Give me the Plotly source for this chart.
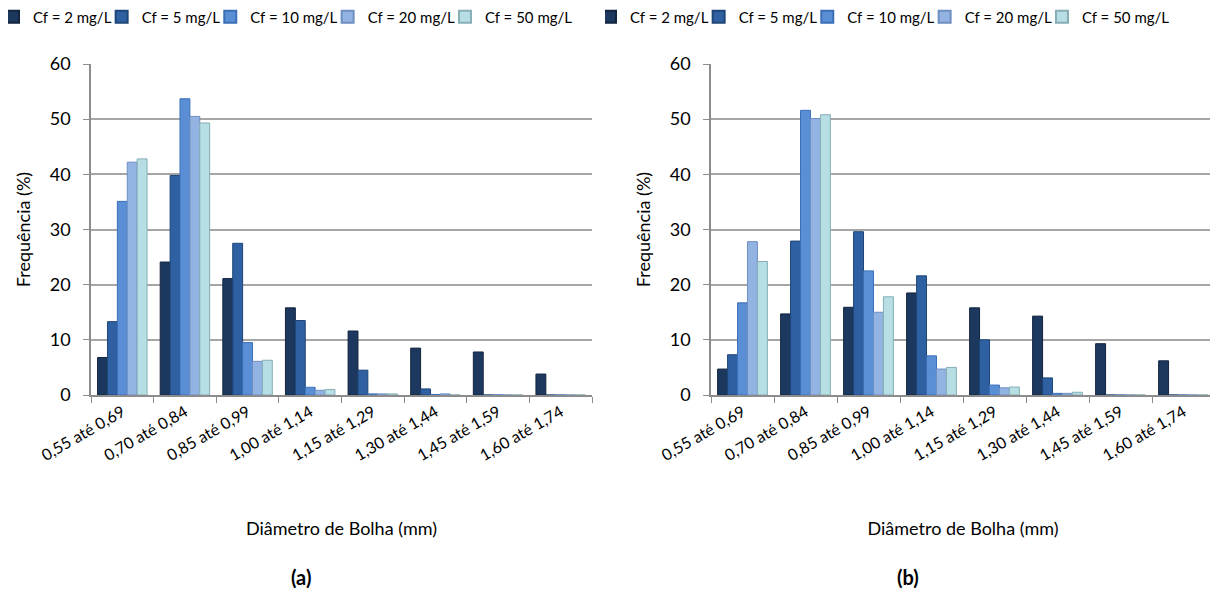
import plotly.graph_objects as go

categories = ["0,55 até 0,69", "0,70 até 0,84", "0,85 até 0,99", "1,00 até 1,14",
              "1,15 até 1,29", "1,30 até 1,44", "1,45 até 1,59", "1,60 até 1,74"]
series_names = ["Cf = 2 mg/L", "Cf = 5 mg/L", "Cf = 10 mg/L", "Cf = 20 mg/L", "Cf = 50 mg/L"]

# Chart (a)
a_cf2 = [6.8, 24.1, 21.1, 15.8, 11.6, 8.5, 7.8, 3.8]
a_cf5 = [13.3, 39.8, 27.5, 13.5, 4.5, 1.1, 0, 0]
a_cf10 = [35.1, 53.7, 9.5, 1.4, 0.2, 0.1, 0, 0]
a_cf20 = [42.2, 50.5, 6.1, 0.85, 0.2, 0.2, 0, 0]
a_cf50 = [42.8, 49.3, 6.3, 1.0, 0.2, 0, 0, 0]

# Chart (b)
b_cf2 = [4.7, 14.7, 15.9, 18.5, 15.8, 14.3, 9.3, 6.2]
b_cf5 = [7.3, 27.9, 29.6, 21.6, 10.0, 3.1, 0, 0]
b_cf10 = [16.7, 51.6, 22.5, 7.1, 1.8, 0.3, 0, 0]
b_cf20 = [27.8, 50.1, 15.0, 4.7, 1.3, 0.3, 0, 0]
b_cf50 = [24.2, 50.8, 17.8, 5.0, 1.45, 0.5, 0, 0]

y_ticks = [0, 10, 20, 30, 40, 50, 60]

fills = ["#1D385F", "#2E60A2", "#5A8FD6", "#93B3E3", "#B6DEE4"]
edges = ["#12243E", "#1E4678", "#3A6FB8", "#6F8FC0", "#86AEB4"]

FONT = "Lato, 'Open Sans', sans-serif"

fig = go.Figure()
a_data = [a_cf2, a_cf5, a_cf10, a_cf20, a_cf50]
b_data = [b_cf2, b_cf5, b_cf10, b_cf20, b_cf50]
for i, name in enumerate(series_names):
    fig.add_trace(go.Bar(x=categories, y=a_data[i], name=name, xaxis="x", yaxis="y",
                         marker=dict(color=fills[i], line=dict(color=edges[i], width=1)),
                         legend="legend", legendgroup="a" + str(i)))
for i, name in enumerate(series_names):
    fig.add_trace(go.Bar(x=categories, y=b_data[i], name=name, xaxis="x2", yaxis="y2",
                         marker=dict(color=fills[i], line=dict(color=edges[i], width=1)),
                         legend="legend2", legendgroup="b" + str(i)))

# figure is drawn inside the page body (8px margin)
W, H = 1210, 595
ax_common = dict(type="category", tickson="boundaries", ticks="outside", ticklen=6,
                 tickcolor="#8C8C8C", showline=True, linecolor="#8C8C8C", linewidth=1.5,
                 tickangle=-30, tickfont=dict(family=FONT, size=16, color="#000"),
                 showgrid=False, automargin=False,
                 title=dict(text="Diâmetro de Bolha (mm)", font=dict(family=FONT, size=18, color="#000"),
                            standoff=59))
y_common = dict(range=[0, 60], tickvals=y_ticks, ticks="outside", ticklen=6, tickcolor="#8C8C8C",
                showline=True, linecolor="#8C8C8C", linewidth=1.5, showgrid=True,
                gridcolor="#A6A6A6", gridwidth=1.5, zeroline=False, automargin=False,
                ticklabelstandoff=9,
                tickfont=dict(family=FONT, size=18, color="#000"),
                title=dict(text="Frequência (%)", font=dict(family=FONT, size=18, color="#000"),
                           standoff=14))

leg_common = dict(orientation="h", yanchor="middle", xanchor="left",
                  font=dict(family=FONT, size=15, color="#000"),
                  itemwidth=30, indentation=-15, bgcolor="rgba(0,0,0,0)", traceorder="normal",
                  tracegroupgap=0, itemsizing="constant")

fig.update_layout(
    width=W, height=H,
    margin=dict(l=0, r=0, t=0, b=0, autoexpand=False),
    paper_bgcolor="white", plot_bgcolor="white",
    barmode="group", bargap=0.21, bargroupgap=0,
    xaxis=dict(domain=[83 / W, 584 / W], anchor="y", **ax_common),
    yaxis=dict(domain=[(H - 387) / H, (H - 56) / H], anchor="x", **y_common),
    xaxis2=dict(domain=[703 / W, 1207 / W], anchor="y2", **ax_common),
    yaxis2=dict(domain=[(H - 387) / H, (H - 56) / H], anchor="x2", **y_common),
    legend=dict(x=0, y=(H - 9) / H, **leg_common),
    legend2=dict(x=597 / W, y=(H - 9) / H, **leg_common),
    annotations=[
        dict(text="<b>(a)</b>", x=293 / W, y=(H - 569) / H, xref="paper", yref="paper",
             xanchor="center", yanchor="middle",
             showarrow=False, font=dict(family=FONT, size=20, color="#000")),
        dict(text="<b>(b)</b>", x=900 / W, y=(H - 569) / H, xref="paper", yref="paper",
             xanchor="center", yanchor="middle",
             showarrow=False, font=dict(family=FONT, size=20, color="#000")),
    ],
)

fig.write_html("out.html")
